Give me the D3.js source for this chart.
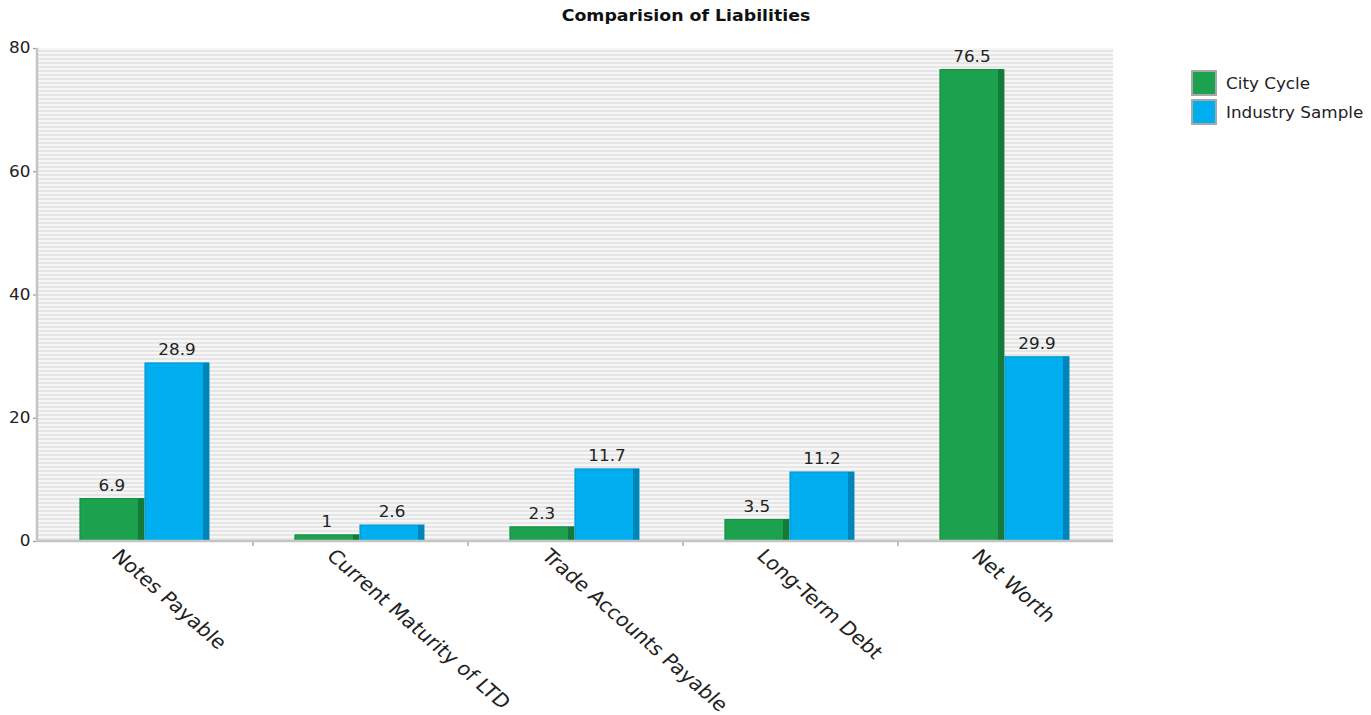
<!DOCTYPE html>
<html>
<head>
<meta charset="utf-8">
<script src="https://cdn.jsdelivr.net/npm/d3@7"></script>
<style>
  html, body { margin: 0; padding: 0; background: #ffffff; }
  svg { display: block; font-family: "DejaVu Sans", sans-serif; }
</style>
</head>
<body>
<svg id="chart" width="1371" height="715"></svg>
<script>
// Liabilities compared between City Cycle and the industry sample
const categories = ["Notes Payable", "Current Maturity of LTD", "Trade Accounts Payable", "Long-Term Debt", "Net Worth"];
const seriesNames = ["City Cycle", "Industry Sample"];
const cityCycle = [6.9, 1, 2.3, 3.5, 76.5];
const industrySample = [28.9, 2.6, 11.7, 11.2, 29.9];
const yTicks = [0, 20, 40, 60, 80];

const seriesValues = [cityCycle, industrySample];
const fills = ["#1ca24f", "#00aeef"];
const sides = ["#137a3a", "#0085b8"];
const edges = ["#178a43", "#0095cc"];

// glyphs are drawn slightly wide
const SX = 1.12;

const svg = d3.select("#chart");
const plot = { left: 38, right: 1113, top: 48, bottom: 541 };

// striped plot background
const defs = svg.append("defs");
const pat = defs.append("pattern")
  .attr("id", "stripes")
  .attr("patternUnits", "userSpaceOnUse")
  .attr("width", 8).attr("height", 4)
  .attr("y", plot.top);
pat.append("rect").attr("width", 8).attr("height", 4).attr("fill", "#e6e6e6");
pat.append("rect").attr("width", 8).attr("height", 2).attr("fill", "#f6f6f6");

svg.append("rect")
  .attr("x", plot.left).attr("y", plot.top)
  .attr("width", plot.right - plot.left)
  .attr("height", plot.bottom - plot.top)
  .attr("fill", "url(#stripes)");

// title
svg.append("text")
  .attr("transform", `translate(686,21) scale(${SX},1)`)
  .attr("text-anchor", "middle")
  .attr("font-size", 15.5)
  .attr("font-weight", "bold")
  .attr("fill", "#111")
  .text("Comparision of Liabilities");

// scales
const x0 = d3.scaleBand().domain(categories).range([plot.left, plot.right]).padding(0);
const bw = x0.bandwidth();
const x1 = d3.scaleBand().domain(seriesNames).range([bw * 0.195, bw * 0.8]).padding(0);
const y = d3.scaleLinear().domain([0, 80]).range([plot.bottom, plot.top]);

// y axis
const yAxis = svg.append("g")
  .attr("transform", `translate(${plot.left},0)`)
  .call(d3.axisLeft(y).tickValues(yTicks).tickSize(4).tickPadding(4).tickFormat(d3.format("d")));
yAxis.select(".domain").remove();
yAxis.selectAll(".tick line").attr("stroke", "#999").attr("stroke-width", 1.2).attr("x1", -5).attr("x2", -1);
yAxis.selectAll(".tick text")
  .attr("font-size", 15.5).attr("fill", "#222").attr("font-family", "DejaVu Sans")
  .attr("x", -7)
  .attr("transform", `scale(${SX * 0.97},1)`);

svg.append("line")
  .attr("x1", plot.left - 1).attr("x2", plot.left - 1)
  .attr("y1", plot.top).attr("y2", plot.bottom + 1)
  .attr("stroke", "#c4c4c4").attr("stroke-width", 2.5);

// bars
const groups = svg.append("g").selectAll("g")
  .data(categories)
  .join("g")
  .attr("transform", d => `translate(${x0(d)},0)`);

seriesNames.forEach((s, si) => {
  const sideW = 6;
  groups.each(function (c, ci) {
    const v = seriesValues[si][ci];
    const g = d3.select(this);
    const bx = x1(s);
    const w = x1.bandwidth() - 1;
    const top = y(v);
    const h = y(0) - top;
    g.append("rect")
      .attr("x", bx).attr("y", top)
      .attr("width", w).attr("height", h)
      .attr("fill", fills[si])
      .attr("stroke", edges[si]).attr("stroke-width", 1);
    g.append("rect")
      .attr("x", bx + w - sideW).attr("y", top)
      .attr("width", sideW).attr("height", h)
      .attr("fill", sides[si]);
    g.append("text")
      .attr("transform", `translate(${bx + w / 2},${top - 7.5}) scale(${SX},1)`)
      .attr("text-anchor", "middle")
      .attr("font-size", 15)
      .attr("fill", "#222")
      .text(String(v));
  });
});

// x axis line and tick marks at category boundaries
svg.append("line")
  .attr("x1", plot.left - 2).attr("x2", plot.right)
  .attr("y1", plot.bottom).attr("y2", plot.bottom)
  .attr("stroke", "#c4c4c4").attr("stroke-width", 2.5);
svg.append("g").selectAll("line")
  .data(categories.slice(1))
  .join("line")
  .attr("x1", d => x0(d)).attr("x2", d => x0(d))
  .attr("y1", plot.bottom + 1).attr("y2", plot.bottom + 5)
  .attr("stroke", "#aaa").attr("stroke-width", 1.5);

// rotated category labels
svg.append("g").selectAll("text")
  .data(categories)
  .join("text")
  .attr("transform", d => `translate(${x0(d) + bw / 2 - 35},557) scale(1.15,1) rotate(45)`)
  .attr("text-anchor", "start")
  .attr("font-size", 18.6)
  .attr("fill", "#222")
  .text(d => d);

// legend
const legend = svg.append("g").attr("transform", "translate(1192,71)");
seriesNames.forEach((s, i) => {
  const row = legend.append("g").attr("transform", `translate(0,${i * 29})`);
  row.append("rect")
    .attr("x", 0).attr("y", 0).attr("width", 24).attr("height", 24)
    .attr("fill", fills[i])
    .attr("stroke", "#a8a8a8").attr("stroke-width", 2);
  row.append("text")
    .attr("transform", `translate(34,17.5) scale(${SX},1)`)
    .attr("font-size", 15)
    .attr("fill", "#222")
    .text(s);
});
</script>
</body>
</html>
